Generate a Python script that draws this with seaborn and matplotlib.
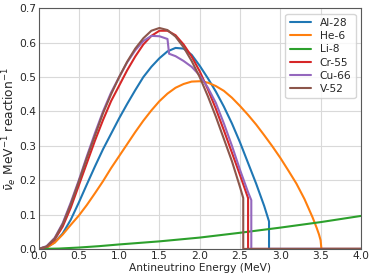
import numpy as np
import pandas as pd
import seaborn as sns
import matplotlib
matplotlib.use("Agg")
import matplotlib.pyplot as plt

isotopes = ["Al-28", "He-6", "Li-8", "Cr-55", "Cu-66", "V-52"]

al28_e = [0.0, 0.1, 0.2, 0.3, 0.4, 0.5, 0.6, 0.7, 0.8, 0.9, 1.0, 1.1, 1.2, 1.3, 1.4, 1.5, 1.6, 1.7, 1.8, 1.9,
          2.0, 2.1, 2.2, 2.3, 2.4, 2.5, 2.6, 2.7, 2.8, 2.86, 2.86, 4.0]
al28_v = [0.0, 0.004, 0.019, 0.045, 0.085, 0.135, 0.188, 0.24, 0.29, 0.335, 0.38, 0.422, 0.462, 0.5, 0.53,
          0.555, 0.575, 0.585, 0.583, 0.565, 0.533, 0.497, 0.458, 0.414, 0.365, 0.31, 0.25, 0.19, 0.125, 0.08,
          0.0, 0.0]

he6_e = [0.0, 0.1, 0.2, 0.3, 0.4, 0.5, 0.6, 0.7, 0.8, 0.9, 1.0, 1.1, 1.2, 1.3, 1.4, 1.5, 1.6, 1.7, 1.8, 1.9,
         2.0, 2.1, 2.2, 2.3, 2.4, 2.5, 2.6, 2.7, 2.8, 2.9, 3.0, 3.1, 3.2, 3.3, 3.4, 3.45, 3.48, 3.5, 3.51, 4.0]
he6_v = [0.0, 0.004, 0.018, 0.042, 0.07, 0.097, 0.128, 0.162, 0.197, 0.235, 0.27, 0.305, 0.34, 0.373, 0.403,
         0.43, 0.452, 0.469, 0.48, 0.487, 0.488, 0.484, 0.474, 0.46, 0.44, 0.416, 0.39, 0.362, 0.331, 0.299,
         0.265, 0.228, 0.19, 0.145, 0.092, 0.062, 0.042, 0.025, 0.0, 0.0]

li8_e = [0.0, 0.25, 0.5, 0.75, 1.0, 1.5, 2.0, 2.5, 3.0, 3.5, 4.0]
li8_v = [0.0, 0.001, 0.004, 0.008, 0.013, 0.022, 0.033, 0.047, 0.062, 0.078, 0.096]

cr55_e = [0.0, 0.1, 0.2, 0.3, 0.4, 0.5, 0.6, 0.7, 0.8, 0.9, 1.0, 1.1, 1.2, 1.3, 1.4, 1.5, 1.6, 1.7, 1.8, 1.9,
          2.0, 2.1, 2.2, 2.3, 2.4, 2.5, 2.6, 2.6, 4.0]
cr55_v = [0.0, 0.006, 0.027, 0.065, 0.12, 0.185, 0.25, 0.315, 0.375, 0.43, 0.475, 0.52, 0.56, 0.595, 0.62,
          0.635, 0.635, 0.622, 0.595, 0.56, 0.517, 0.465, 0.408, 0.345, 0.28, 0.215, 0.148, 0.0, 0.0]

cu66_e = [0.0, 0.1, 0.2, 0.3, 0.4, 0.5, 0.6, 0.7, 0.8, 0.9, 1.0, 1.1, 1.2, 1.3, 1.4, 1.5, 1.6, 1.62, 1.7, 1.8,
          1.9, 2.0, 2.1, 2.2, 2.3, 2.4, 2.5, 2.6, 2.64, 2.64, 4.0]
cu66_v = [0.0, 0.008, 0.032, 0.075, 0.135, 0.2, 0.27, 0.337, 0.4, 0.455, 0.5, 0.543, 0.578, 0.605, 0.62, 0.619,
          0.611, 0.568, 0.561, 0.547, 0.53, 0.505, 0.47, 0.425, 0.365, 0.3, 0.23, 0.165, 0.142, 0.0, 0.0]

v52_e = [0.0, 0.1, 0.2, 0.3, 0.4, 0.5, 0.6, 0.7, 0.8, 0.9, 1.0, 1.1, 1.2, 1.3, 1.4, 1.5, 1.6, 1.7, 1.8, 1.9,
         2.0, 2.1, 2.2, 2.3, 2.4, 2.5, 2.54, 2.54, 4.0]
v52_v = [0.0, 0.007, 0.03, 0.072, 0.13, 0.196, 0.265, 0.33, 0.395, 0.45, 0.5, 0.545, 0.583, 0.613, 0.635,
         0.643, 0.637, 0.618, 0.587, 0.547, 0.5, 0.445, 0.385, 0.32, 0.255, 0.18, 0.148, 0.0, 0.0]

series = {
    "Al-28": (al28_e, al28_v),
    "He-6": (he6_e, he6_v),
    "Li-8": (li8_e, li8_v),
    "Cr-55": (cr55_e, cr55_v),
    "Cu-66": (cu66_e, cu66_v),
    "V-52": (v52_e, v52_v),
}

rows = []
for name in isotopes:
    e, v = series[name]
    for ei, vi in zip(e, v):
        rows.append({"iso": name, "E": ei, "v": vi})
df = pd.DataFrame(rows)

sns.set_style("whitegrid", {"axes.edgecolor": "0.35", "grid.color": "0.85"})
plt.rcParams["font.family"] = ["DejaVu Sans"]

fig, ax = plt.subplots(figsize=(3.74, 2.80), dpi=100)
fig.subplots_adjust(left=0.103, right=0.965, top=0.970, bottom=0.111)

sns.lineplot(data=df, x="E", y="v", hue="iso", hue_order=isotopes, palette="tab10",
             estimator=None, sort=False, units="iso", linewidth=1.5, ax=ax)

ax.set_xlim(0, 4.0)
ax.set_ylim(0, 0.7)
ax.set_xticks(np.arange(0, 4.01, 0.5))
ax.set_yticks(np.arange(0, 0.71, 0.1))
ax.tick_params(labelsize=7.7, pad=1.5, length=0)
ax.set_xlabel("Antineutrino Energy (MeV)", fontsize=7.7, labelpad=1.5)
ax.set_ylabel(r"$\bar{\nu}_e$ MeV$^{-1}$ reaction$^{-1}$", fontsize=8.8)
ax.yaxis.set_label_coords(-0.062, 0.5)
for s in ax.spines.values():
    s.set_linewidth(0.8)
leg = ax.legend(title=None, loc="upper right", fontsize=7.7, frameon=True, handlelength=2.0,
                borderpad=0.4, labelspacing=0.3)
fig.savefig("out.png", dpi=100)
